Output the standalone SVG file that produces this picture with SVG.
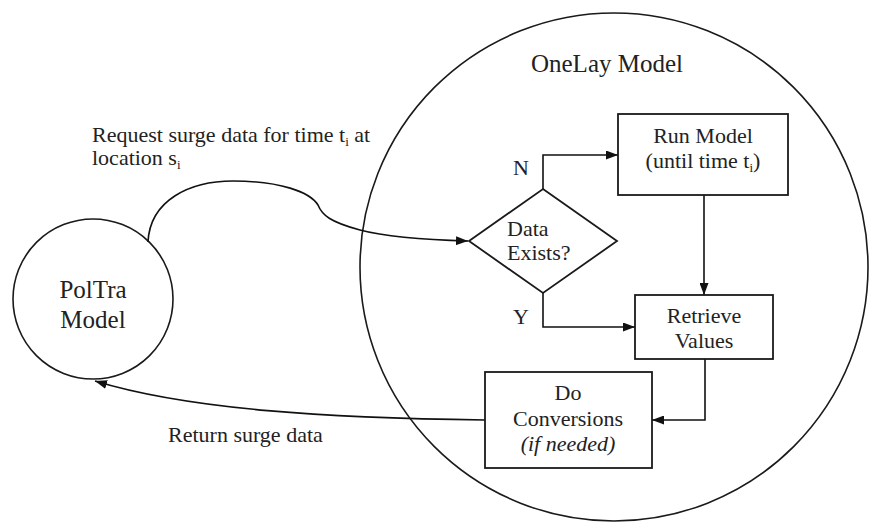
<svg xmlns="http://www.w3.org/2000/svg" width="870" height="524" viewBox="0 0 870 524" font-family="'Liberation Serif', 'DejaVu Serif', serif">
<style>
text{font-family:'Liberation Serif','DejaVu Serif',serif;fill:#222;font-size:22px}
.big{font-size:25px}
.node{fill:none;stroke:#1a1a1a;stroke-width:1.6}
.box{fill:#fff;stroke:#1a1a1a;stroke-width:1.8}
.edge{fill:none;stroke:#111;stroke-width:1.6}
.sub{font-size:13px}
</style>
<defs>
<marker id="arr" viewBox="0 0 12 9" refX="12" refY="4.5" markerWidth="12" markerHeight="9" markerUnits="userSpaceOnUse" orient="auto">
<path d="M0,0 L12,4.5 L0,9 Z" fill="#111"/>
</marker>
</defs>
<rect width="870" height="524" fill="#fff"/>
<g id="onelay">
<circle class="node" cx="614" cy="267" r="254"/>
<text class="big" x="607" y="72" text-anchor="middle">OneLay Model</text>
</g>
<g id="poltra">
<circle class="node" cx="93" cy="299" r="80"/>
<text class="big" x="93" y="298" text-anchor="middle">PolTra</text>
<text class="big" x="93" y="328" text-anchor="middle">Model</text>
</g>
<g id="connectors">
<path class="edge" d="M148,242 C150,200 190,181 233,181 C280,181 310,192 318,205 C322,215 330,222 360,230 C390,238 430,240 468,241" marker-end="url(#arr)"/>
<path class="edge" d="M543,189 L543,155 L618,155" marker-end="url(#arr)"/>
<path class="edge" d="M543,293 L543,327 L635,327" marker-end="url(#arr)"/>
<path class="edge" d="M704,195 L704,295" marker-end="url(#arr)"/>
<path class="edge" d="M705,359 L705,420 L652,420" marker-end="url(#arr)"/>
<path class="edge" d="M485,420 C330,418 190,410 95,381" marker-end="url(#arr)"/>
</g>
<g id="decision">
<polygon class="box" points="543,189 617,241 543,293 469,241"/>
<text x="507" y="236">Data</text>
<text x="507" y="260">Exists?</text>
</g>
<g id="run">
<rect class="box" x="618" y="114" width="170" height="81"/>
<text x="703" y="143" text-anchor="middle">Run Model</text>
<text x="703" y="168" text-anchor="middle">(until time t<tspan class="sub" dy="4">i</tspan><tspan dy="-4">)</tspan></text>
</g>
<g id="retrieve">
<rect class="box" x="635" y="295" width="138" height="64"/>
<text x="704" y="323" text-anchor="middle">Retrieve</text>
<text x="704" y="348" text-anchor="middle">Values</text>
</g>
<g id="convert">
<rect class="box" x="485" y="372" width="167" height="96"/>
<text x="568" y="400" text-anchor="middle">Do</text>
<text x="568" y="426" text-anchor="middle">Conversions</text>
<text x="568" y="451" text-anchor="middle" font-style="italic">(if needed)</text>
</g>
<g id="labels">
<text x="513" y="175">N</text>
<text x="513" y="324">Y</text>
<text x="92" y="142">Request surge data for time t<tspan class="sub" dy="4">i</tspan><tspan dy="-4"> at</tspan></text>
<text x="92" y="165">location s<tspan class="sub" dy="4">i</tspan></text>
<text x="168" y="442">Return surge data</text>
</g>
</svg>
